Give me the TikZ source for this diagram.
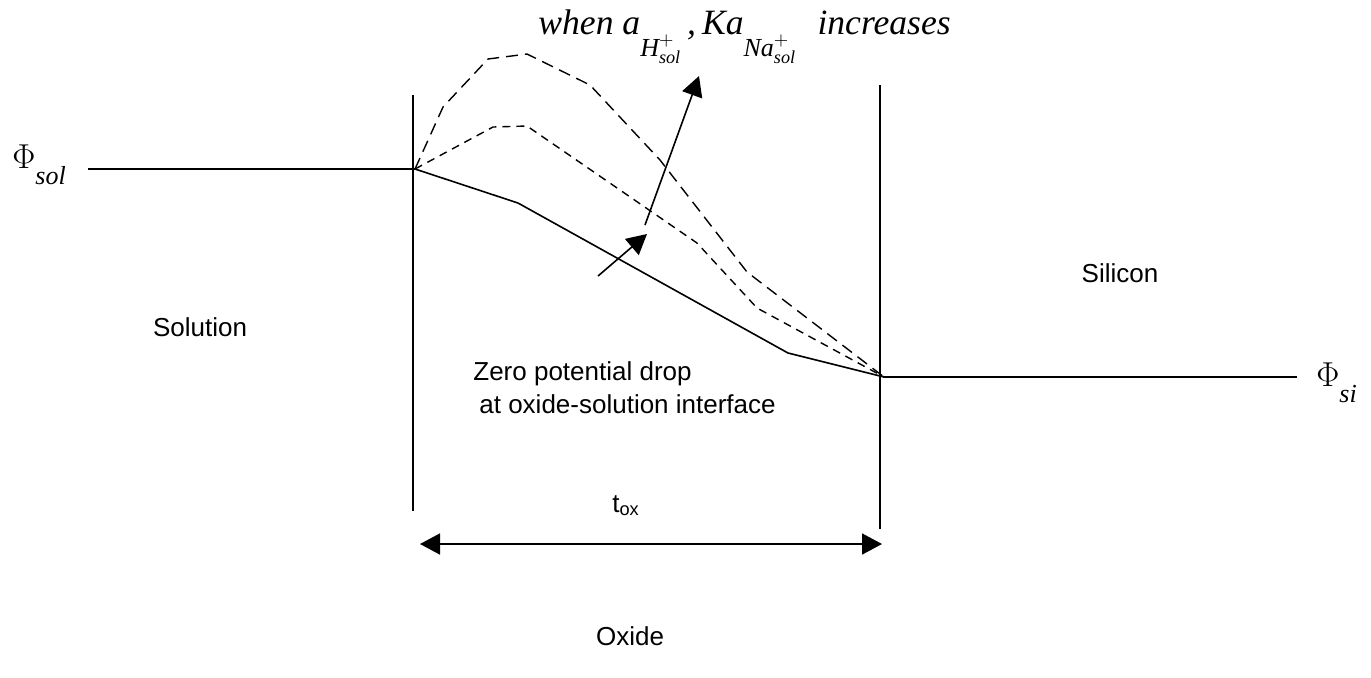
\documentclass[tikz,border=0pt]{standalone}
\usepackage{amsmath}
\usepackage{fontspec}
\setmainfont{Liberation Serif}
\setsansfont{Liberation Sans}
\usepackage{tikz}
\usetikzlibrary{arrows.meta,positioning}
\newcommand{\lowsub}[1]{\raisebox{-0.62em}{\fontsize{13}{13}\selectfont $#1$}}

\begin{document}
\begin{tikzpicture}[
  x=0.5pt, y=-0.5pt,
  lbl/.style={font=\sffamily\fontsize{13}{16.5}\selectfont, inner sep=0pt},
  phi/.style={font=\fontsize{17.5}{18}\selectfont, inner sep=0pt, anchor=base west},
  wall/.style={line width=0.8pt},
  profile/.style={line width=0.8pt, line join=round},
  longdash/.style={line width=0.7pt, dash pattern=on 6pt off 3.5pt},
  shortdash/.style={line width=0.7pt, dash pattern=on 4pt off 3pt},
  >={Triangle[length=10pt,width=10.5pt]},
  arrline/.style={->, line width=0.8pt},
]
\useasboundingbox (0,0) rectangle (1371,677);
% oxide walls
\coordinate (wallLtop) at (413,95);
\coordinate (wallLbot) at (413,511);
\coordinate (wallRtop) at (880,85);
\coordinate (wallRbot) at (880,529);
\draw[wall] (wallLtop) -- (wallLbot);
\draw[wall] (wallRtop) -- (wallRbot);
% potentials
\node[phi] (phisol) at (12,168) {$\Phi$\raisebox{-1.05ex}{\fontsize{13}{13}\selectfont\itshape sol}};
\node[phi] (phisi) at (1316,386) {$\Phi$\raisebox{-1.05ex}{\fontsize{13}{13}\selectfont\itshape si}};
\coordinate (solL) at (88,169);
\coordinate (solR) at (415,169);
\coordinate (siL) at (884,377);
\coordinate (siR) at (1297,377);
\draw[profile] (solL) -- (solR);
\draw[profile] (siL) -- (siR);
% profiles through the oxide
\draw[profile] (solR) -- (518,203) -- (788,353) -- (siL);
\draw[shortdash] (solR) -- (493,127) -- (527,126) -- (697,243) -- (757,308) -- (siL);
\draw[longdash] (solR) -- (443,107) -- (488,59) -- (527,54) -- (590,85) -- (660,160) -- (747,272) -- (siL);
% labels
\node[font=\fontsize{17.8}{20}\selectfont\itshape, inner sep=0pt, anchor=base west] (incr) at (538,34)
  {when a\lowsub{\text{\itshape H}^{+}_{\text{\itshape sol}}}\,,\,Ka\lowsub{\text{\itshape Na}^{+}_{\text{\itshape sol}}}\hspace{0.6em}increases};
\coordinate (upS) at (645,225);
\coordinate (upE) at (699,76);
\draw[arrline] (upS) -- (upE);
\coordinate (zeroS) at (598,276);
\coordinate (zeroE) at (647,234);
\draw[arrline] (zeroS) -- (zeroE);
\node[lbl, align=left, anchor=base west] (zero) at (473,413)
  {Zero potential drop\\\hspace{3pt}at oxide-solution interface};
\node[lbl] (solution) at (200,327) {Solution};
\node[lbl] (silicon) at (1120,273) {Silicon};
\node[lbl, anchor=base] (tox) at (626,512) {t$_{\text{ox}}$};
\coordinate (toxL) at (420,544);
\coordinate (toxR) at (882,544);
\draw[arrline, <->] (toxL) -- (toxR);
\node[lbl] (oxide) at (630,636) {Oxide};
\end{tikzpicture}
\end{document}
